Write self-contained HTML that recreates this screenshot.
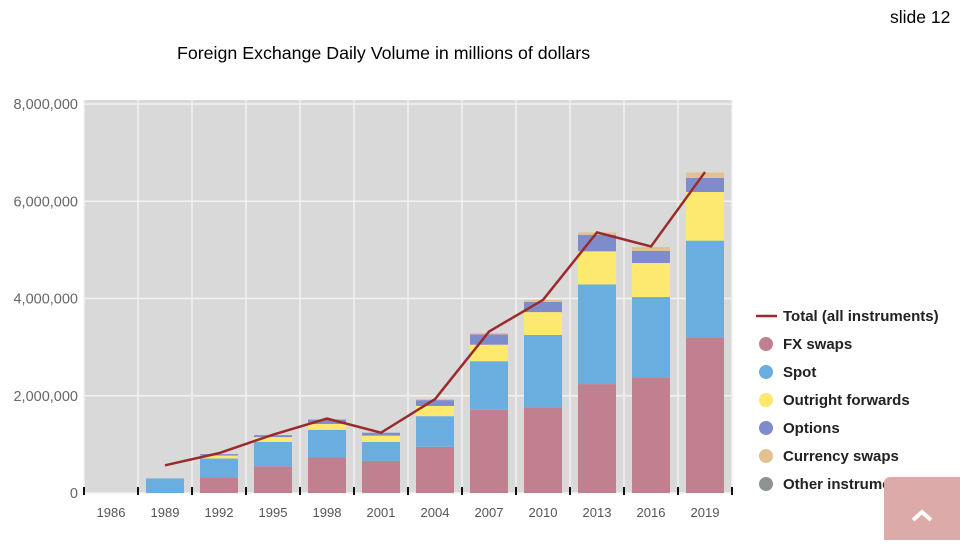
<!DOCTYPE html>
<html><head><meta charset="utf-8"><style>
body{margin:0;width:960px;height:540px;background:#fff;overflow:hidden;font-family:"Liberation Sans",sans-serif;position:relative}
.t{position:absolute;color:#000}
</style></head><body>
<div class="t" style="left:890px;top:7px;font-size:17.5px">slide 12</div>
<div class="t" style="left:177px;top:43px;font-size:17.8px">Foreign Exchange Daily Volume in millions of dollars</div>
<svg id="c" width="960" height="540" style="position:absolute;left:0;top:0"></svg>
<div style="position:absolute;left:884px;top:477px;width:76px;height:63px;background:#dcaaa9;border-top-left-radius:6px">
<svg width="76" height="63"><polyline points="29,43 38,35 47,43" fill="none" stroke="#fff" stroke-width="4"/></svg></div>
<script>
const years=["1986","1989","1992","1995","1998","2001","2004","2007","2010","2013","2016","2019"];
const fxSwaps=[0,0,0.32,0.55,0.73,0.66,0.95,1.71,1.76,2.24,2.38,3.2];
const spot=[0,0.30,0.39,0.5,0.57,0.39,0.63,1.0,1.49,2.05,1.65,1.99];
const outright=[0,0,0.06,0.1,0.12,0.13,0.21,0.34,0.47,0.68,0.7,1.0];
const options=[0,0,0.03,0.04,0.09,0.06,0.12,0.21,0.21,0.34,0.25,0.29];
const currSwaps=[0,0,0,0,0,0,0.02,0.03,0.04,0.05,0.08,0.11];
const total=[null,0.57,0.82,1.2,1.53,1.24,1.93,3.32,3.97,5.36,5.07,6.6];
const yTicks=[0,2,4,6,8];
const yTickLabels=["0","2,000,000","4,000,000","6,000,000","8,000,000"];
const NS="http://www.w3.org/2000/svg",svg=document.getElementById('c');
const x0=84,x1=732,yb=493,yt=104,ymax=8;
const cw=(x1-x0)/years.length;
const Y=v=>yb-(v/ymax)*(yb-yt);
const X=i=>x0+cw*i;
function mk(t,a,p){const e=document.createElementNS(NS,t);for(const k in a)e.setAttribute(k,a[k]);(p||svg).appendChild(e);return e;}
let e=mk('rect',{x:x0,y:yt-4,width:x1-x0,height:yb-yt+4,fill:'#d9d9d9'});


yTicks.forEach((v,i)=>{
 e=mk('line',{x1:x0,x2:x1,y1:Y(v),y2:Y(v),stroke:'#f2f2f2','stroke-width':1.5});
 
 
 e=mk('text',{x:78,y:Y(v)+5,'text-anchor':'end','font-size':14.5,fill:'#666'});e.textContent=yTickLabels[i];
 
 
});
for(let i=0;i<=years.length;i++){
 e=mk('line',{x1:X(i),x2:X(i),y1:yt-4,y2:yb,stroke:'#f2f2f2','stroke-width':1.5});
 
 
 e=mk('line',{x1:X(i),x2:X(i),y1:487,y2:495,stroke:'#111','stroke-width':2});
 
 
}
const series=[[fxSwaps,'#c08090','fx-swaps'],[spot,'#6aaee0','spot'],[outright,'#fde870','outright-forwards'],[options,'#7f8ccc','options'],[currSwaps,'#e2c092','currency-swaps']];
years.forEach((yr,i)=>{
 let acc=0;
 series.forEach(s=>{const v=s[0][i];if(v>0){
  e=mk('rect',{x:X(i)+8,y:Y(acc+v),width:cw-16,height:Y(acc)-Y(acc+v),fill:s[1]});
  
  
 }acc+=v;});
 e=mk('text',{x:X(i)+cw/2,y:517,'text-anchor':'middle','font-size':13,fill:'#555'});e.textContent=yr;
 
 
});
const pts=[];total.forEach((v,i)=>{if(v!=null)pts.push((X(i)+cw/2)+','+Y(v));});
e=mk('polyline',{points:pts.join(' '),fill:'none',stroke:'#9b2a2a','stroke-width':2.5});


const leg=[['Total (all instruments)',null],['FX swaps','#c08090'],['Spot','#6aaee0'],['Outright forwards','#fde870'],['Options','#7f8ccc'],['Currency swaps','#e2c092'],['Other instruments','#8e9290']];
leg.forEach((l,i)=>{
 const y=316+i*28;
 const g=mk('g',{});
 
 
 if(l[1])mk('circle',{cx:766,cy:y,r:7,fill:l[1]},g);else mk('line',{x1:756,x2:777,y1:y,y2:y,stroke:'#9b2a2a','stroke-width':2.5},g);
 const t=mk('text',{x:783,y:y+5,'font-size':15,'font-weight':'bold',fill:'#222'},g);t.textContent=l[0];
});
</script>
</body></html>
